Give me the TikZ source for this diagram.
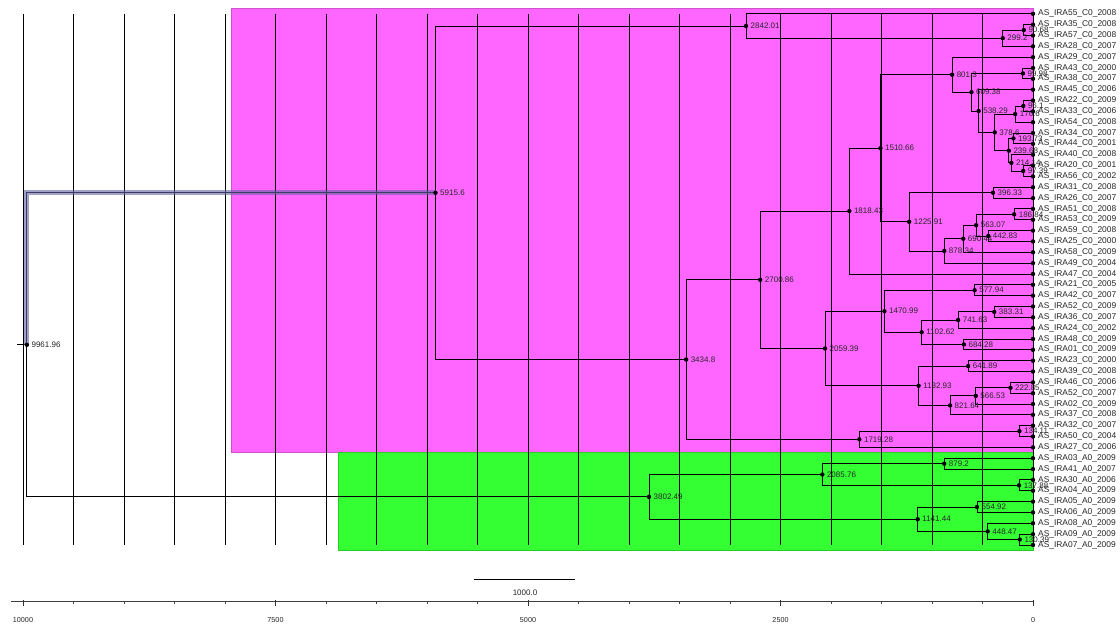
\documentclass[tikz,border=0pt]{standalone}
\usepackage{fontspec}
\setmainfont{Liberation Sans}
\usetikzlibrary{calc}
\definecolor{pinkbox}{RGB}{255,102,255}
\definecolor{pinkedge}{RGB}{205,80,205}
\definecolor{greenbox}{RGB}{51,255,51}
\definecolor{greenedge}{RGB}{40,205,40}
\definecolor{hlband}{RGB}{100,100,165}
\newcommand\mknode[4]{%
  \path let \p1=(#3), \p2=(#4) in coordinate (#1) at ({(1033-0.101*#2)*1pt},{0.5*\y1+0.5*\y2});
  \draw[br] (#3) -| (#1) |- (#4);
}
\begin{document}
\begin{tikzpicture}[x=1pt,y=-1pt,
  br/.style={line width=0.85pt, draw=black},
  dotnode/.style={circle, fill=black, inner sep=0pt, minimum size=4.4pt},
  nlab/.style={anchor=west, inner sep=0pt, font=\fontsize{8}{9}\selectfont, text=black!85},
  tlab/.style={anchor=west, inner sep=0pt, font=\fontsize{8.4}{9}\selectfont, text=black!85},
  gridline/.style={line width=0.8pt, draw=black},
  axlab/.style={inner sep=0pt, font=\fontsize{7.2}{8}\selectfont, text=black!85},
]
\useasboundingbox (0,0) rectangle (1120,626);
\fill[white] (0,0) rectangle (1120,626);
% coloured clade boxes
\filldraw[fill=pinkbox, draw=pinkedge, line width=0.8pt] (231,8.3) rectangle (1033,452.8);
\filldraw[fill=greenbox, draw=greenedge, line width=0.8pt] (338,452.8) rectangle (1033,550.7);
% grid
\foreach \k in {0,...,20} {\draw[gridline] ({23+\k*50.5},13.8) -- ({23+\k*50.5},545);}
% tips
\foreach \nm [count=\i] in {AS\_IRA55\_C0\_2008,AS\_IRA35\_C0\_2008,AS\_IRA57\_C0\_2008,AS\_IRA28\_C0\_2007,AS\_IRA29\_C0\_2007,AS\_IRA43\_C0\_2000,AS\_IRA38\_C0\_2007,AS\_IRA45\_C0\_2006,AS\_IRA22\_C0\_2009,AS\_IRA33\_C0\_2006,AS\_IRA54\_C0\_2008,AS\_IRA34\_C0\_2007,AS\_IRA44\_C0\_2001,AS\_IRA40\_C0\_2008,AS\_IRA20\_C0\_2001,AS\_IRA56\_C0\_2002,AS\_IRA31\_C0\_2008,AS\_IRA26\_C0\_2007,AS\_IRA51\_C0\_2008,AS\_IRA53\_C0\_2009,AS\_IRA59\_C0\_2008,AS\_IRA25\_C0\_2000,AS\_IRA58\_C0\_2009,AS\_IRA49\_C0\_2004,AS\_IRA47\_C0\_2004,AS\_IRA21\_C0\_2005,AS\_IRA42\_C0\_2007,AS\_IRA52\_C0\_2009,AS\_IRA36\_C0\_2007,AS\_IRA24\_C0\_2002,AS\_IRA48\_C0\_2009,AS\_IRA01\_C0\_2009,AS\_IRA23\_C0\_2000,AS\_IRA39\_C0\_2008,AS\_IRA46\_C0\_2006,AS\_IRA52\_C0\_2007,AS\_IRA02\_C0\_2009,AS\_IRA37\_C0\_2008,AS\_IRA32\_C0\_2007,AS\_IRA50\_C0\_2004,AS\_IRA27\_C0\_2006,AS\_IRA03\_A0\_2009,AS\_IRA41\_A0\_2007,AS\_IRA30\_A0\_2006,AS\_IRA04\_A0\_2009,AS\_IRA05\_A0\_2009,AS\_IRA06\_A0\_2009,AS\_IRA08\_A0\_2009,AS\_IRA09\_A0\_2009,AS\_IRA07\_A0\_2009}
  {\coordinate (t\i) at (1033,{13.8+(\i-1)*10.84});
   \node[tlab] (tl\i) at (1038,{13.8+(\i-1)*10.84}) {\nm};}
% tree
\mknode{n9068}{90.68}{t2}{t3}
\mknode{n2992}{299.2}{n9068}{t4}
\mknode{n284201}{2842.01}{t1}{n2992}
\mknode{n9998}{99.98}{t6}{t7}
\mknode{n961}{96.1}{t9}{t10}
\mknode{n1766}{176.6}{n961}{t11}
\mknode{n19373}{193.73}{t12}{t13}
\mknode{n9739}{97.39}{t15}{t16}
\mknode{n21414}{214.14}{t14}{n9739}
\mknode{n23968}{239.68}{n19373}{n21414}
\mknode{n3786}{378.6}{n1766}{n23968}
\mknode{n53829}{538.29}{t8}{n3786}
\mknode{n60938}{609.38}{n9998}{n53829}
\mknode{n8013}{801.3}{t5}{n60938}
\mknode{n39633}{396.33}{t17}{t18}
\mknode{n18684}{186.84}{t19}{t20}
\mknode{n44283}{442.83}{t21}{t22}
\mknode{n56307}{563.07}{n18684}{n44283}
\mknode{n69044}{690.44}{n56307}{t23}
\mknode{n87834}{878.34}{n69044}{t24}
\mknode{n122591}{1225.91}{n39633}{n87834}
\mknode{n151066}{1510.66}{n8013}{n122591}
\mknode{n181843}{1818.43}{n151066}{t25}
\mknode{n57794}{577.94}{t26}{t27}
\mknode{n38331}{383.31}{t28}{t29}
\mknode{n74163}{741.63}{n38331}{t30}
\mknode{n68428}{684.28}{t31}{t32}
\mknode{n110262}{1102.62}{n74163}{n68428}
\mknode{n147099}{1470.99}{n57794}{n110262}
\mknode{n64189}{641.89}{t33}{t34}
\mknode{n22285}{222.85}{t35}{t36}
\mknode{n56653}{566.53}{n22285}{t37}
\mknode{n82164}{821.64}{n56653}{t38}
\mknode{n113293}{1132.93}{n64189}{n82164}
\mknode{n205939}{2059.39}{n147099}{n113293}
\mknode{n270086}{2700.86}{n181843}{n205939}
\mknode{n13411}{134.11}{t39}{t40}
\mknode{n171928}{1719.28}{n13411}{t41}
\mknode{n34348}{3434.8}{n270086}{n171928}
\mknode{n59156}{5915.6}{n284201}{n34348}
\mknode{n8792}{879.2}{t42}{t43}
\mknode{n13788}{137.88}{t44}{t45}
\mknode{n208576}{2085.76}{n8792}{n13788}
\mknode{n55492}{554.92}{t46}{t47}
\mknode{n13039}{130.39}{t49}{t50}
\mknode{n44847}{448.47}{t48}{n13039}
\mknode{n114144}{1141.44}{n55492}{n44847}
\mknode{n380249}{3802.49}{n208576}{n114144}
\mknode{root}{9961.96}{n59156}{n380249}
\coordinate (rootstub) at ([xshift=-9.5pt]root);
\draw[br] (rootstub) -- (root);
% highlighted branch
\draw[line width=5pt, draw=hlband, opacity=0.6, line join=miter] (root) |- (n59156);
% tip dots
\foreach \i in {1,...,50} {\node[dotnode] (td\i) at (t\i) {};}
% internal node dots and labels
\foreach \c/\lab in {n9068/90.68,n2992/299.2,n284201/2842.01,n9998/99.98,n961/96.1,n1766/176.6,n19373/193.73,n9739/97.39,n21414/214.14,n23968/239.68,n3786/378.6,n53829/538.29,n60938/609.38,n8013/801.3,n39633/396.33,n18684/186.84,n44283/442.83,n56307/563.07,n69044/690.44,n87834/878.34,n122591/1225.91,n151066/1510.66,n181843/1818.43,n57794/577.94,n38331/383.31,n74163/741.63,n68428/684.28,n110262/1102.62,n147099/1470.99,n64189/641.89,n22285/222.85,n56653/566.53,n82164/821.64,n113293/1132.93,n205939/2059.39,n270086/2700.86,n13411/134.11,n171928/1719.28,n34348/3434.8,n59156/5915.6,n8792/879.2,n13788/137.88,n208576/2085.76,n55492/554.92,n13039/130.39,n44847/448.47,n114144/1141.44,n380249/3802.49,root/9961.96}
  {\node[dotnode] (d\c) at (\c) {};
   \node[nlab] (l\c) at ([xshift=4.5pt]\c) {\lab};}
% scale bar
\coordinate (sb1) at (474,579);
\coordinate (sb2) at (575,579);
\draw[line width=1pt] (sb1) -- (sb2);
\node[axlab, font=\fontsize{8}{9}\selectfont] (sblab) at (525,593) {1000.0};
% axis
\draw[line width=0.8pt, draw=black!75] (11,601) -- (1033,601);
\foreach \k in {0,...,20} {\draw[line width=0.7pt, draw=black!75] ({23+\k*50.5},601) -- ({23+\k*50.5},604);}
\foreach \k/\lab in {0/10000,5/7500,10/5000,15/2500,20/0} {
  \draw[line width=0.8pt, draw=black!80] ({23+\k*50.5},600) -- ({23+\k*50.5},606);
  \node[axlab] (ax\k) at ({23+\k*50.5},620.5) {\lab};}
\end{tikzpicture}
\end{document}
